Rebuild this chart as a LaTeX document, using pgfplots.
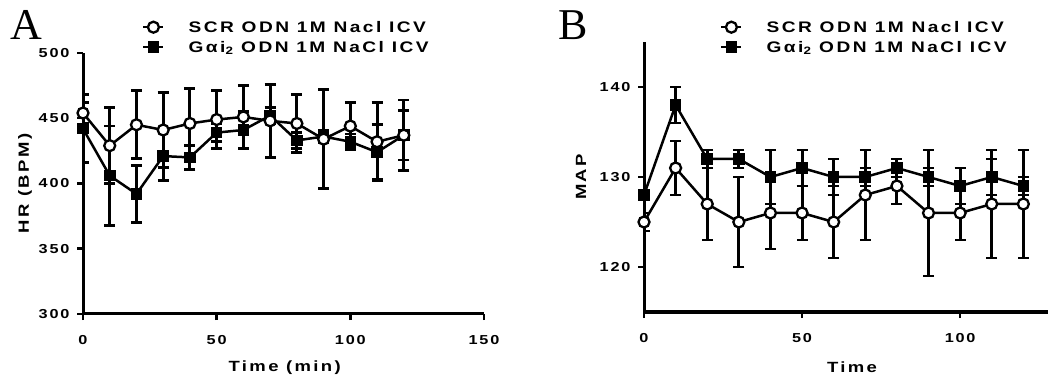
\documentclass[border=0pt]{standalone}
\usepackage{fontspec}
\setmainfont{Liberation Sans}
\newfontfamily\prism[FakeStretch=1.25, LetterSpace=16]{Liberation Sans}
\newfontfamily\prismt[FakeStretch=1.25, LetterSpace=14]{Liberation Sans}
\newfontfamily\panelfont{Liberation Serif}
\usepackage{pgfplots}
\usepackage{pgfplotstable}
\pgfplotsset{compat=1.18}

\pgfplotstableread{
x y e
0 454 8
10 429 29
20 445 26
30 441 29
40 446 27
50 449 22
60 451 24
70 448 28
80 446 22
90 434 38
100 444 18
110 432 30
120 437 27
}\hrscr
\pgfplotstableread{
x y e
0 442 26
10 406 38
20 392 22
30 421 19
40 420 9
50 439 7
60 441 14
70 452 6
80 433 6
90 436 5
100 432 6
110 424 21
120 437 19
}\hrgai
\pgfplotstableread{
x y e
0 125 1
10 131 3
20 127 4
30 125 5
40 126 4
50 126 3
60 125 4
70 128 5
80 129 2
90 126 7
100 126 3
110 127 6
120 127 6
}\mapscr
\pgfplotstableread{
x y e
0 128 0.5
10 138 2
20 132 1
30 132 1
40 130 3
50 131 2
60 130 2
70 130 1
80 131 1
90 130 1
100 129 2
110 130 2
120 129 1
}\mapgai

\newcommand{\pf}{\prism\bfseries\fontsize{14.8}{17}\selectfont}
\newcommand{\lf}{\prism\bfseries\fontsize{15.3}{17}\selectfont}
\newcommand{\tf}{\prismt\bfseries\fontsize{13}{15}\selectfont}

\pgfplotsset{
  prismaxis/.style={
    scale only axis,
    axis x line*=bottom, axis y line*=left,
    axis line style={-, line width=3pt, black},
    tick align=outside,
    major tick length=6pt,
    every tick/.style={black, line width=2.5pt},
    tick label style={font=\tf},
    xticklabel style={yshift=-12pt},
    yticklabel style={xshift=-4pt},
    /pgf/number format/assume math mode=true,
    label style={font=\pf},
    ylabel style={anchor=center},
    xlabel style={anchor=center},
    legend cell align=left,
    reverse legend,
    legend style={draw=none, fill=none, inner sep=0pt,
      font=\lf,
      nodes={text height=11pt, text depth=1pt, inner sep=1pt},
      row sep=6pt,
      /tikz/every odd column/.append style={column sep=23pt}},
    legend image code/.code={%
      \draw[mark repeat=2, mark phase=2] plot coordinates {(0pt,0pt) (10pt,0pt) (20pt,0pt)};},
  },
  scr/.style={black, line width=2.5pt, mark=*, mark size=5.5pt,
    mark options={fill=white, line width=2.3pt},
    error bars/.cd, y dir=both, y explicit,
    error bar style={line width=3pt},
    error mark options={rotate=90, mark size=5.5pt, line width=2.8pt}},
  gai/.style={black, line width=2.5pt, mark=square*, mark size=5.3pt,
    mark options={fill=black, line width=1pt},
    error bars/.cd, y dir=both, y explicit,
    error bar style={line width=3pt},
    error mark options={rotate=90, mark size=5.5pt, line width=2.8pt}},
}

\begin{document}
\begin{tikzpicture}
\path[use as bounding box] (0,0) rectangle (1048pt,377pt);

\begin{axis}[prismaxis,
  at={(83pt,63pt)}, anchor=south west,
  width=401pt, height=261pt,
  xmin=0, xmax=150, ymin=300, ymax=500,
  xtick={0,50,100,150}, ytick={300,350,400,450,500},
  xlabel={Time (min)}, ylabel={HR (BPM)},
  xlabel style={at={(axis description cs:0.503,-0.207)}},
  ylabel style={at={(axis description cs:-0.1446,0.5)}},
  legend style={at={(axis description cs:0.1471,1.1265)}, anchor=north west},
]
\addplot[gai] table[x=x, y=y, y error=e] {\hrgai};
\addplot[scr] table[x=x, y=y, y error=e] {\hrscr};
\legend{Gαi\textsubscript{2} ODN 1M NaCl ICV, SCR ODN 1M Nacl ICV}
\end{axis}

\begin{axis}[prismaxis,
  at={(644pt,65pt)}, anchor=south west,
  width=404pt, height=270pt,
  xmin=0, xmax=127.8, ymin=115, ymax=145,
  xtick={0,50,100}, ytick={120,130,140},
  xlabel={Time}, ylabel={MAP},
  xlabel style={at={(axis description cs:0.515,-0.204)}},
  ylabel style={at={(axis description cs:-0.156,0.5)}},
  legend style={at={(axis description cs:0.188,1.0815)}, anchor=north west},
]
\addplot[gai] table[x=x, y=y, y error=e] {\mapgai};
\addplot[scr] table[x=x, y=y, y error=e] {\mapscr};
\legend{Gαi\textsubscript{2} ODN 1M NaCl ICV, SCR ODN 1M Nacl ICV}
\end{axis}

\node[anchor=base west, inner sep=0pt, font=\panelfont\fontsize{44}{48}\selectfont] at (10pt,337pt) {A};
\node[anchor=base west, inner sep=0pt, font=\panelfont\fontsize{44}{48}\selectfont] at (558pt,337pt) {B};
\end{tikzpicture}
\end{document}
